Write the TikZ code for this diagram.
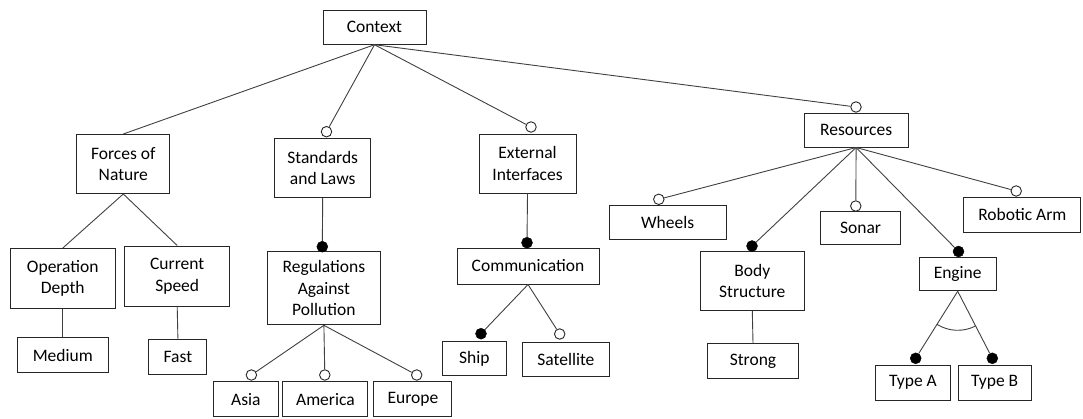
\documentclass[tikz,border=0pt]{standalone}
\usepackage{fontspec}
\setmainfont{Carlito}
\begin{document}
\begin{tikzpicture}[x=1pt,y=-1pt,
  feat/.style={draw=black!85, line width=1pt, fill=white, align=center,
               inner sep=0pt, font=\fontsize{17.5}{21.6}\selectfont},
  opt/.style={circle, draw=black!85, line width=0.9pt, fill=white,
              minimum size=10.5pt, inner sep=0pt},
  mand/.style={circle, draw=black, fill=black, minimum size=11pt, inner sep=0pt},
  link/.style={draw=black!75, line width=0.9pt}]
\useasboundingbox (0,0) rectangle (1083,418);

% feature boxes
\node[feat, minimum width=103pt, minimum height=34pt] (ctx) at (374.5,27.2) {Context};
\node[feat, minimum width=93pt,  minimum height=59pt] (fon) at (123.3,164) {Forces of\\Nature};
\node[feat, minimum width=96pt,  minimum height=59pt] (sal) at (322.7,167.8) {Standards\\and Laws};
\node[feat, minimum width=97pt,  minimum height=59pt] (ext) at (527.5,163.7) {External\\Interfaces};
\node[feat, minimum width=104pt, minimum height=34pt] (res) at (856.1,130) {Resources};

\node[feat, minimum width=105pt, minimum height=60pt] (opd) at (62.8,278.5) {Operation\\Depth};
\node[feat, minimum width=105pt, minimum height=60pt] (cus) at (177.2,276) {Current\\Speed};
\node[feat, minimum width=91pt,  minimum height=35pt] (med) at (62.8,355.2) {Medium};
\node[feat, minimum width=58pt,  minimum height=35pt] (fst) at (177.9,356.5) {Fast};

\node[feat, minimum width=113pt, minimum height=73pt] (rap) at (323.9,288.3) {Regulations\\Against\\Pollution};
\node[feat, minimum width=65pt,  minimum height=35pt] (asi) at (245.9,399.2) {Asia};
\node[feat, minimum width=85pt,  minimum height=35pt] (ame) at (325.4,399.2) {America};
\node[feat, minimum width=78pt,  minimum height=35pt] (eur) at (412.9,399.2) {Europe};

\node[feat, minimum width=142pt, minimum height=36pt] (com) at (528,266) {Communication};
\node[feat, minimum width=64pt,  minimum height=34pt] (shp) at (474.4,358.8) {Ship};
\node[feat, minimum width=87pt,  minimum height=34pt] (sat) at (565.9,359) {Satellite};

\node[feat, minimum width=117pt, minimum height=34pt] (whl) at (667.6,222) {Wheels};
\node[feat, minimum width=104pt, minimum height=59pt] (bst) at (752.3,281) {Body\\Structure};
\node[feat, minimum width=91pt,  minimum height=35pt] (stg) at (753,361.3) {Strong};
\node[feat, minimum width=80pt,  minimum height=33pt] (snr) at (860.6,228.3) {Sonar};
\node[feat, minimum width=77pt,  minimum height=33pt] (eng) at (957.7,274.3) {Engine};
\node[feat, minimum width=75pt,  minimum height=35pt] (tya) at (913,382.7) {Type A};
\node[feat, minimum width=73pt,  minimum height=35pt] (tyb) at (994.7,382.7) {Type B};
\node[feat, minimum width=117pt, minimum height=35pt] (rba) at (1022.3,214.7) {Robotic Arm};

% optional (open) and mandatory (filled) markers
\node[opt]  (m-sal) at (326.5,131.7) {};
\node[opt]  (m-ext) at (531,127) {};
\node[opt]  (m-res) at (856,107) {};
\node[mand] (m-rap) at (322.3,246.7) {};
\node[opt]  (m-asi) at (251.4,375) {};
\node[opt]  (m-ame) at (324.8,375) {};
\node[opt]  (m-eur) at (416.7,375) {};
\node[mand] (m-com) at (527,242.7) {};
\node[mand] (m-shp) at (481,333.7) {};
\node[opt]  (m-sat) at (559.7,334) {};
\node[opt]  (m-whl) at (658.8,199.3) {};
\node[mand] (m-bst) at (752,246) {};
\node[opt]  (m-snr) at (855.8,206) {};
\node[mand] (m-eng) at (958.5,251.5) {};
\node[mand] (m-tya) at (915.7,358.3) {};
\node[mand] (m-tyb) at (992.3,358.3) {};
\node[opt]  (m-rba) at (1016.2,191) {};

% connectors
\draw[link] (ctx.south) -- (fon.north);
\draw[link] (ctx.south) -- (m-sal);
\draw[link] (ctx.south) -- (m-ext);
\draw[link] (ctx.south) -- (m-res);

\draw[link] (fon.south) -- (opd.north);
\draw[link] (fon.south) -- (cus.north);
\draw[link] (opd.south) -- (med.north);
\draw[link] (cus.south) -- (fst.north);

\draw[link] (sal.south) -- (m-rap);
\draw[link] (rap.south) -- (m-asi);
\draw[link] (rap.south) -- (m-ame);
\draw[link] (rap.south) -- (m-eur);

\draw[link] (ext.south) -- (m-com);
\draw[link] (com.south) -- (m-shp);
\draw[link] (com.south) -- (m-sat);

\draw[link] (res.south) -- (m-whl);
\draw[link] (res.south) -- (m-bst);
\draw[link] (res.south) -- (m-snr);
\draw[link] (res.south) -- (m-eng);
\draw[link] (res.south) -- (m-rba);
\draw[link] (bst.south) -- (stg.north);

\draw[link] (eng.south) -- (m-tya);
\draw[link] (eng.south) -- (m-tyb);
% alternative-group arc
\draw[link] ([shift={(238:39pt)}]eng.south) arc[start angle=238, end angle=297, radius=39pt];
\end{tikzpicture}
\end{document}
